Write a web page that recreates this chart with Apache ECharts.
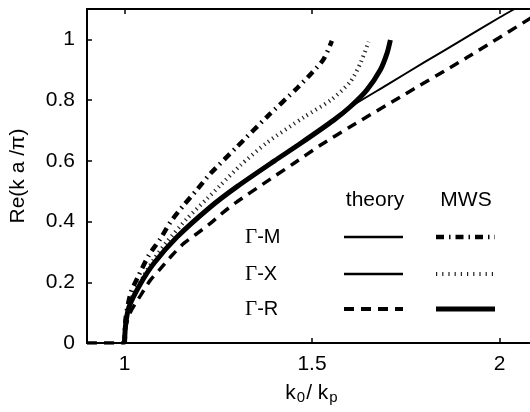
<!DOCTYPE html>
<html>
<head>
<meta charset="utf-8">
<script src="https://cdn.jsdelivr.net/npm/echarts@6/dist/echarts.min.js"></script>
<style>
  html, body { margin: 0; padding: 0; background: #fff; }
  #chart { width: 530px; height: 412px; }
</style>
</head>
<body>
<div id="chart"></div>
<script>
// tick labels
const xTicks = [1, 1.5, 2]
const yTicks = [0, 0.2, 0.4, 0.6, 0.8, 1]

// theory, Γ-M and Γ-X (same thin solid curve)
const theoryGMX = [
  [0.9, 0], [1.0, 0], [1.003, 0.06], [1.012, 0.119], [1.043, 0.196], [1.078, 0.262],
  [1.14, 0.349], [1.229, 0.448], [1.3, 0.515], [1.4, 0.6], [1.5, 0.684],
  [1.6, 0.775], [1.7, 0.85], [1.8, 0.925], [1.9, 0.998], [2.0, 1.072], [2.04, 1.1]
]
// theory, Γ-R (dashed)
const theoryGR = [
  [0.9, 0], [1.0, 0], [1.004, 0.055], [1.015, 0.1], [1.043, 0.157], [1.069, 0.207],
  [1.096, 0.245], [1.127, 0.289], [1.158, 0.328], [1.194, 0.361], [1.229, 0.394],
  [1.265, 0.432], [1.3, 0.465], [1.371, 0.525], [1.451, 0.591], [1.522, 0.651],
  [1.602, 0.712], [1.735, 0.81], [1.913, 0.94], [2.1, 1.083]
]
// MWS, Γ-M (dash-dot)
const mwsGM = [
  [1.0, 0], [1.003, 0.08], [1.016, 0.163], [1.038, 0.223], [1.065, 0.289], [1.096, 0.344],
  [1.123, 0.399], [1.158, 0.454], [1.194, 0.506], [1.229, 0.558], [1.3, 0.646],
  [1.38, 0.745], [1.46, 0.839], [1.5, 0.89], [1.531, 0.935], [1.553, 0.995]
]
// MWS, Γ-X (dotted)
const mwsGX = [
  [1.0, 0], [1.004, 0.07], [1.02, 0.15], [1.051, 0.22], [1.078, 0.275], [1.114, 0.335],
  [1.167, 0.41], [1.22, 0.475], [1.256, 0.52], [1.309, 0.585], [1.38, 0.66],
  [1.48, 0.745], [1.55, 0.8], [1.602, 0.86], [1.629, 0.921], [1.651, 0.992]
]
// MWS, Γ-R (thick solid)
const mwsGR = [
  [1.0, 0], [1.003, 0.06], [1.012, 0.119], [1.043, 0.196], [1.078, 0.262], [1.14, 0.349],
  [1.229, 0.448], [1.3, 0.515], [1.4, 0.6], [1.469, 0.657], [1.558, 0.734],
  [1.602, 0.778], [1.646, 0.833], [1.682, 0.899], [1.7, 0.954], [1.709, 0.998]
]

const FONT = '"Liberation Sans", Arial, sans-serif'
const black = '#000'

const lineSeries = (name, data, lineStyle) => ({
  name,
  type: 'line',
  data,
  showSymbol: false,
  smooth: 0.25,
  clip: true,
  lineStyle: { color: black, cap: 'butt', ...lineStyle }
})

// legend table (drawn with graphic, 2 columns)
const legendRows = [
  { label: 'M', y: 237, theory: { lineWidth: 2.5 }, mws: { lineWidth: 4.5, lineDash: [8, 5, 1.5, 5] } },
  { label: 'X', y: 274, theory: { lineWidth: 2.5 }, mws: { lineWidth: 4, lineDash: [1.2, 5], stroke: '#222' } },
  { label: 'R', y: 309, theory: { lineWidth: 4, lineDash: [10, 7] }, mws: { lineWidth: 5 } }
]
const legendGraphic = [
  { type: 'text', x: 375, y: 200, style: { text: 'theory', fontSize: 21, fontFamily: FONT, fill: black, align: 'center', verticalAlign: 'middle' } },
  { type: 'text', x: 466, y: 200, style: { text: 'MWS', fontSize: 21, fontFamily: FONT, fill: black, align: 'center', verticalAlign: 'middle' } }
]
legendRows.forEach((r) => {
  legendGraphic.push({
    type: 'text', x: 245, y: r.y,
    style: {
      text: '{g|Γ}{t|-' + r.label + '}',
      align: 'left', verticalAlign: 'middle',
      rich: {
        g: { fontSize: 21, fontFamily: '"Liberation Serif", serif', fill: black },
        t: { fontSize: 20, fontFamily: FONT, fill: black }
      }
    }
  })
  legendGraphic.push({
    type: 'line', shape: { x1: 344, y1: r.y, x2: 403, y2: r.y },
    style: { stroke: black, lineCap: 'butt', ...r.theory }
  })
  legendGraphic.push({
    type: 'line', shape: { x1: 436, y1: r.y, x2: 495, y2: r.y },
    style: { stroke: black, lineCap: 'butt', ...r.mws }
  })
})

const chart = echarts.init(document.getElementById('chart'), null, { renderer: 'canvas' })
chart.setOption({
  animation: false,
  backgroundColor: '#fff',
  grid: { left: 87, right: -7, top: 9, bottom: 69, outerBoundsMode: 'none' },
  xAxis: [
    {
      type: 'value', min: 0.9, max: 2.1, position: 'bottom',
      axisLine: { onZero: false, lineStyle: { color: black, width: 2 } },
      axisTick: { inside: true, length: 5, customValues: xTicks, lineStyle: { color: black, width: 1.5 } },
      axisLabel: {
        customValues: xTicks, formatter: (v) => String(v),
        color: black, fontSize: 21, fontFamily: FONT, margin: 11
      },
      splitLine: { show: false },
      name: '{k|k}{s|0}{k|/ k}{s|p}',
      nameLocation: 'middle', nameGap: 40,
      nameTextStyle: {
        rich: {
          k: { fontSize: 21, fontFamily: FONT, color: black, lineHeight: 22, verticalAlign: 'top' },
          s: { fontSize: 15, fontFamily: FONT, color: black, lineHeight: 15, verticalAlign: 'bottom', padding: [0, 1, 0, 1] }
        }
      }
    },
    {
      type: 'value', min: 0.9, max: 2.1, position: 'top',
      axisLine: { onZero: false, lineStyle: { color: black, width: 2 } },
      axisTick: { inside: true, length: 5, customValues: xTicks, lineStyle: { color: black, width: 1.5 } },
      axisLabel: { show: false },
      splitLine: { show: false }
    }
  ],
  yAxis: {
    type: 'value', min: 0, max: 1.1,
    axisLine: { show: true, onZero: false, lineStyle: { color: black, width: 2 } },
    axisTick: { show: true, inside: true, length: 5, customValues: yTicks, lineStyle: { color: black, width: 1.5 } },
    axisLabel: {
      customValues: yTicks, formatter: (v) => String(v),
      color: black, fontSize: 21, fontFamily: FONT, margin: 12
    },
    splitLine: { show: false },
    name: 'Re(k a /π)',
    nameLocation: 'middle', nameGap: 58, nameRotate: 90,
    nameTextStyle: { color: black, fontSize: 21, fontFamily: FONT }
  },
  graphic: legendGraphic,
  series: [
    lineSeries('theory Γ-M / Γ-X', theoryGMX, { width: 2 }),
    lineSeries('theory Γ-R', theoryGR, { width: 3.5, type: [10, 7] }),
    lineSeries('MWS Γ-M', mwsGM, { width: 4.5, type: [8, 5, 1.5, 5] }),
    lineSeries('MWS Γ-X', mwsGX, { width: 4, type: [1.2, 4], color: '#222' }),
    lineSeries('MWS Γ-R', mwsGR, { width: 5 })
  ]
})
</script>
</body>
</html>
